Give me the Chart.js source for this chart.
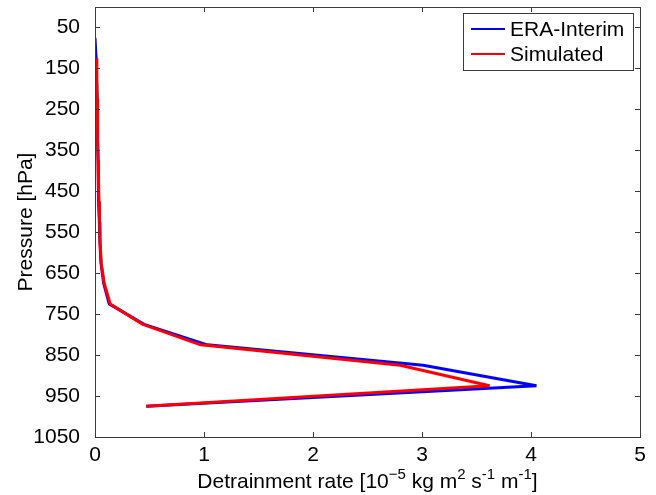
<!DOCTYPE html>
<html>
<head>
<meta charset="utf-8">
<script src="https://cdn.jsdelivr.net/npm/chart.js@4/dist/chart.umd.min.js"></script>
<style>
  html, body { margin: 0; padding: 0; background: #fff; }
  #wrap { width: 656px; height: 495px; }
</style>
</head>
<body>
<div id="wrap"><canvas id="detrainmentChart" width="656" height="495"></canvas></div>
<script>
// pressure levels (hPa) and detrainment rate (1e-5 kg m^-2 s^-1 m^-1)
const pressureLevels = [75, 125, 175, 225, 275, 325, 375, 425, 475, 525, 575, 625, 675, 725, 775, 825, 875, 925, 975];
const eraInterim = [0.0, 0.01, 0.015, 0.02, 0.022, 0.025, 0.028, 0.03, 0.035, 0.04, 0.045, 0.055, 0.08, 0.13, 0.45, 1.03, 3.01, 4.05, 0.47];
const simulated = [null, 0.012, 0.016, 0.02, 0.023, 0.026, 0.029, 0.032, 0.037, 0.042, 0.047, 0.057, 0.085, 0.14, 0.44, 0.97, 2.80, 3.62, 0.47];
const seriesNames = ["ERA-Interim", "Simulated"];
const seriesColors = ['rgb(0,0,255)', 'rgb(255,0,0)'];
const xTicks = [0, 1, 2, 3, 4, 5];
const yTicks = [50, 150, 250, 350, 450, 550, 650, 750, 850, 950, 1050];

const FONT = '"Liberation Sans", Arial, sans-serif';
const FSIZE = 21;

function toPoints(values){
  const pts = [];
  values.forEach((v, i)=>{
    if(v !== null){
      pts.push({x: v, y: pressureLevels[i]});
    }
  });
  return pts;
}

// inward ticks on all four sides + box, like matlab
const frameAndTicks = {
  id: 'frameAndTicks',
  afterDraw(chart){
    const {ctx, chartArea: a, scales} = chart;
    ctx.save();
    ctx.strokeStyle = '#3a3a3a';
    ctx.lineWidth = 1;
    ctx.beginPath();
    yTicks.forEach((v)=>{
      const y = Math.round(scales.y.getPixelForValue(v)) + 0.5;
      ctx.moveTo(a.left, y); ctx.lineTo(a.left + 5, y);
      ctx.moveTo(a.right, y); ctx.lineTo(a.right - 5, y);
    });
    xTicks.forEach((v)=>{
      const x = Math.round(scales.x.getPixelForValue(v)) + 0.5;
      ctx.moveTo(x, a.bottom); ctx.lineTo(x, a.bottom - 5);
      ctx.moveTo(x, a.top); ctx.lineTo(x, a.top + 5);
    });
    ctx.stroke();
    ctx.strokeRect(Math.round(a.left) + 0.5, Math.round(a.top) + 0.5,
                   Math.round(a.right - a.left), Math.round(a.bottom - a.top));
    ctx.restore();
  }
};

// x-axis title with superscripts
const xTitle = {
  id: 'xTitle',
  afterDraw(chart){
    const {ctx, chartArea: a} = chart;
    const parts = [
      ["Detrainment rate [10", false],
      ["\u22125", true],
      [" kg m", false],
      ["2", true],
      [" s", false],
      ["-1", true],
      [" m", false],
      ["-1", true],
      ["]", false]
    ];
    const big = FSIZE + 'px ' + FONT, small = '15px ' + FONT;
    ctx.save();
    ctx.fillStyle = '#000';
    ctx.textBaseline = 'alphabetic';
    let total = 0;
    parts.forEach((p)=>{ ctx.font = p[1] ? small : big; total += ctx.measureText(p[0]).width; });
    let x = (a.left + a.right) / 2 - total / 2;
    const base = 488;
    parts.forEach((p)=>{
      ctx.font = p[1] ? small : big;
      ctx.fillText(p[0], x, p[1] ? base - 9 : base);
      x += ctx.measureText(p[0]).width;
    });
    ctx.restore();
  }
};

// legend box in the top right corner
const boxLegend = {
  id: 'boxLegend',
  afterDraw(chart){
    const {ctx, chartArea: a} = chart;
    const bx = a.right - 177, by = a.top + 6, bw = 170, bh = 57;
    ctx.save();
    ctx.fillStyle = '#fff';
    ctx.fillRect(bx, by, bw, bh);
    ctx.strokeStyle = '#3a3a3a';
    ctx.lineWidth = 1;
    ctx.strokeRect(Math.round(bx) + 0.5, Math.round(by) + 0.5, bw, bh);
    ctx.font = FSIZE + 'px ' + FONT;
    ctx.textBaseline = 'middle';
    seriesNames.forEach((name, i)=>{
      const y = by + 16 + i * 25;
      ctx.strokeStyle = seriesColors[i];
      ctx.lineWidth = 2;
      ctx.beginPath();
      ctx.moveTo(bx + 8, y); ctx.lineTo(bx + 42, y);
      ctx.stroke();
      ctx.fillStyle = '#000';
      ctx.fillText(name, bx + 47, y + 1);
    });
    ctx.restore();
  }
};

const ctx = document.getElementById('detrainmentChart').getContext('2d');
const chart = new Chart(ctx, {
  type: 'scatter',
  data: {
    datasets: [{
      label: seriesNames[0],
      data: toPoints(eraInterim),
      borderColor: seriesColors[0],
      backgroundColor: seriesColors[0],
      borderWidth: 3,
      borderJoinStyle: 'bevel',
      showLine: true,
      pointRadius: 0,
      tension: 0,
      order: 1
    }, {
      label: seriesNames[1],
      data: toPoints(simulated),
      borderColor: seriesColors[1],
      backgroundColor: seriesColors[1],
      borderWidth: 3,
      borderJoinStyle: 'bevel',
      showLine: true,
      pointRadius: 0,
      tension: 0,
      order: 0
    }]
  },
  options: {
    responsive: false,
    animation: false,
    layout: { padding: { left: 0, top: 7, right: 16, bottom: 0 } },
    plugins: {
      legend: { display: false },
      tooltip: { enabled: false }
    },
    scales: {
      x: {
        type: 'linear',
        min: 0, max: 5,
        grid: { display: false, drawTicks: false },
        border: { display: false },
        afterBuildTicks: (scale)=>{ scale.ticks = xTicks.map((v)=>({value: v})); },
        afterFit: (scale)=>{ scale.height = 58; scale.paddingLeft = 0; scale.paddingRight = 0; },
        ticks: { color: '#000', font: { family: FONT, size: FSIZE }, padding: 6, maxRotation: 0,
                 callback: (v)=>String(v) }
      },
      y: {
        type: 'linear',
        reverse: true,
        min: 0, max: 1050,
        grid: { display: false, drawTicks: false },
        border: { display: false },
        afterBuildTicks: (scale)=>{ scale.ticks = yTicks.map((v)=>({value: v})); },
        afterFit: (scale)=>{ scale.width = 95; scale.paddingTop = 0; scale.paddingBottom = 0; },
        ticks: { color: '#000', font: { family: FONT, size: FSIZE }, padding: 15,
                 callback: (v)=>String(v) },
        title: {
          display: true,
          text: 'Pressure [hPa]',
          color: '#000',
          font: { family: FONT, size: FSIZE },
          padding: { top: 14, bottom: 0 }
        }
      }
    }
  },
  plugins: [frameAndTicks, xTitle, boxLegend]
});
</script>
</body>
</html>
